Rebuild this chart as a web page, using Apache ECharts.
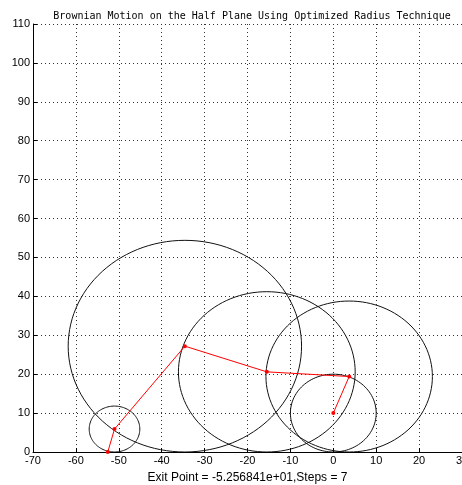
<!DOCTYPE html>
<html>
<head>
<meta charset="utf-8">
<script src="https://cdn.jsdelivr.net/npm/echarts@6/dist/echarts.min.js"></script>
<style>
  html, body { margin: 0; padding: 0; background: #fff; }
  #container { width: 462px; height: 485px; }
</style>
</head>
<body>
<div id="container"></div>
<script>
// walk points (x, y); the last one is the exit point on y = 0
const pathX = [0, 3.7, -15.5, -34.6, -51.0, -52.568];
const pathY = [10, 19.4, 20.6, 27.2, 5.9, 0];
// circles: center x, center y, radius (radius = distance to boundary)
const circleX = [0, 3.7, -15.5, -34.6, -51.0];
const circleY = [10, 19.4, 20.6, 27.2, 5.9];
const circleR = [10, 19.4, 20.6, 27.2, 5.9];

const xTicks = { min: -70, max: 30, interval: 10 };
const yTicks = { min: 0, max: 110, interval: 10 };

let chart = echarts.init(document.getElementById('container'));

const circles = circleX.map((x, i) => [x, circleY[i], circleR[i]]);
const walk = pathX.map((x, i) => [x, pathY[i]]);

chart.setOption({
  animation: false,
  title: {
    text: 'Brownian Motion on the Half Plane Using Optimized Radius Technique',
    left: 247,
    textAlign: 'center',
    top: 6,
    textStyle: { fontFamily: 'DejaVu Sans Mono', fontSize: 10, fontWeight: 'normal', color: '#000' }
  },
  grid: { left: 33, right: 0, top: 24, bottom: 33, outerBoundsMode: 'none', containLabel: false },
  xAxis: {
    type: 'value',
    min: xTicks.min, max: xTicks.max, interval: xTicks.interval,
    name: 'Exit Point = -5.256841e+01,Steps = 7',
    nameLocation: 'middle',
    nameGap: 20,
    nameTextStyle: { fontFamily: 'Liberation Sans', fontSize: 12, color: '#000' },
    axisLine: { onZero: false, lineStyle: { color: '#000', width: 1 } },
    axisTick: { inside: true, length: 4, lineStyle: { color: '#000' } },
    axisLabel: { fontFamily: 'Liberation Sans', fontSize: 11, color: '#000', margin: 3 },
    splitLine: { show: true, lineStyle: { type: [1, 3], color: '#333' } }
  },
  yAxis: {
    type: 'value',
    min: yTicks.min, max: yTicks.max, interval: yTicks.interval,
    axisLine: { show: true, onZero: false, lineStyle: { color: '#000', width: 1 } },
    axisTick: { show: true, inside: true, length: 4, lineStyle: { color: '#000' } },
    axisLabel: { fontFamily: 'Liberation Sans', fontSize: 11, color: '#000', margin: 3 },
    splitLine: { show: true, lineStyle: { type: [1, 3], color: '#333' } }
  },
  series: [
    {
      type: 'custom',
      clip: true,
      data: circles,
      renderItem: function (params, api) {
        const cx = api.value(0), cy = api.value(1), r = api.value(2);
        const pts = [];
        for (let k = 0; k <= 120; k++) {
          const t = k / 120 * Math.PI * 2;
          pts.push(api.coord([cx + r * Math.cos(t), cy + r * Math.sin(t)]));
        }
        return {
          type: 'polyline',
          shape: { points: pts },
          style: { stroke: '#111', lineWidth: 1, fill: null }
        };
      },
      z: 2
    },
    {
      type: 'line',
      data: walk,
      symbol: 'circle',
      symbolSize: 4,
      lineStyle: { color: '#ff0000', width: 1 },
      itemStyle: { color: '#ff0000' },
      z: 3
    }
  ]
});
</script>
</body>
</html>
